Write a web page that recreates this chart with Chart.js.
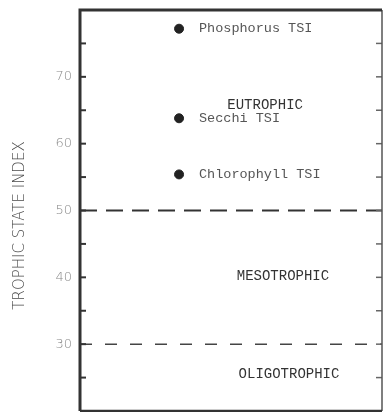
<!DOCTYPE html>
<html>
<head>
<meta charset="utf-8">
<script src="https://cdn.jsdelivr.net/npm/chart.js@4.4.0/dist/chart.umd.min.js"></script>
<style>
  html, body { margin: 0; padding: 0; background: #fff; }
  #wrap { width: 383px; height: 412px; }
</style>
</head>
<body>
<div id="wrap"><canvas id="tsiChart"></canvas></div>
<script>
// TSI values
const pointNames = ['Phosphorus TSI', 'Secchi TSI', 'Chlorophyll TSI'];
const pointValues = [77.2, 63.8, 55.4];
const pointX = 3.28;
const labelX = 3.94;

// trophic zones and their boundaries
const zoneNames = ['EUTROPHIC', 'MESOTROPHIC', 'OLIGOTROPHIC'];
const zoneY = [65.8, 40.2, 25.5];
const zoneX = [6.13, 6.72, 6.92];
const boundaries = [50, 30];

const tickLabels = [30, 40, 50, 60, 70];

const frameAndTicks = {
  id: 'frameAndTicks',
  afterDatasetsDraw(chart) {
    const { ctx, chartArea: a, scales: { x, y } } = chart;
    ctx.save();
    // inward ticks every 5 units
    for (let v = 25; v <= 75; v += 5) {
      const py = y.getPixelForValue(v);
      ctx.strokeStyle = '#333';
      ctx.lineWidth = 2;
      ctx.beginPath();
      ctx.moveTo(a.left, py);
      ctx.lineTo(a.left + 6, py);
      ctx.stroke();
      ctx.strokeStyle = '#666';
      ctx.lineWidth = 1.5;
      ctx.beginPath();
      ctx.moveTo(a.right, py);
      ctx.lineTo(a.right - 6, py);
      ctx.stroke();
    }
    // frame
    ctx.strokeStyle = '#555';
    ctx.lineWidth = 1.5;
    ctx.beginPath();
    ctx.moveTo(a.right, a.top);
    ctx.lineTo(a.right, a.bottom);
    ctx.stroke();
    ctx.strokeStyle = '#333';
    ctx.lineWidth = 3;
    ctx.beginPath();
    ctx.moveTo(a.left, a.bottom);
    ctx.lineTo(a.left, a.top);
    ctx.lineTo(a.right, a.top);
    ctx.stroke();
    ctx.lineWidth = 2.5;
    ctx.beginPath();
    ctx.moveTo(a.left, a.bottom);
    ctx.lineTo(a.right, a.bottom);
    ctx.stroke();

    // point labels
    ctx.font = '13.5px "Liberation Mono", monospace';
    ctx.fillStyle = '#555';
    ctx.textAlign = 'left';
    ctx.textBaseline = 'middle';
    pointNames.forEach((n, i) => {
      ctx.fillText(n, x.getPixelForValue(labelX), y.getPixelForValue(pointValues[i]));
    });
    // zone labels
    ctx.font = '14px "Liberation Mono", monospace';
    ctx.fillStyle = '#333';
    ctx.textAlign = 'center';
    zoneNames.forEach((n, i) => {
      ctx.fillText(n, x.getPixelForValue(zoneX[i]), y.getPixelForValue(zoneY[i]));
    });
    ctx.restore();
  }
};

new Chart(document.getElementById('tsiChart'), {
  type: 'scatter',
  data: {
    datasets: [
      {
        data: pointValues.map(v => ({ x: pointX, y: v })),
        backgroundColor: '#222',
        borderColor: '#222',
        pointRadius: 4.5
      },
      {
        type: 'line',
        data: [{ x: 0, y: boundaries[0] }, { x: 10, y: boundaries[0] }],
        borderColor: '#333',
        borderWidth: 2,
        borderDash: [17, 9],
        pointRadius: 0
      },
      {
        type: 'line',
        data: [{ x: 0, y: boundaries[1] }, { x: 10, y: boundaries[1] }],
        borderColor: '#444',
        borderWidth: 1.5,
        borderDash: [12, 13],
        pointRadius: 0
      }
    ]
  },
  options: {
    responsive: true,
    maintainAspectRatio: false,
    animation: false,
    layout: { autoPadding: false, padding: { top: 10, right: 1, bottom: 1, left: 0 } },
    plugins: { legend: { display: false }, tooltip: { enabled: false } },
    scales: {
      x: { type: 'linear', min: 0, max: 10, display: false },
      y: {
        min: 20,
        max: 80,
        afterFit(scale) {
          scale.width = 80;
          scale.paddingTop = 0;
          scale.paddingBottom = 0;
        },
        grid: { display: false, drawTicks: false },
        border: { display: false },
        ticks: {
          stepSize: 5,
          padding: 8,
          color: '#888',
          font: { family: 'DejaVu Sans', size: 13, weight: 200 },
          callback: v => tickLabels.includes(v) ? String(v) : ''
        },
        title: {
          display: true,
          text: 'TROPHIC STATE INDEX\u2003\u2003',
          color: '#4a4a4a',
          font: { family: 'DejaVu Sans', size: 15, weight: 200 },
          padding: { top: 11 }
        }
      }
    }
  },
  plugins: [frameAndTicks]
});
</script>
</body>
</html>
